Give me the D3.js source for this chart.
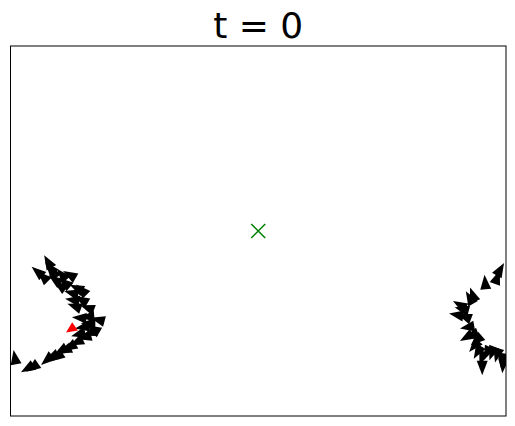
<!DOCTYPE html>
<html>
<head>
<meta charset="utf-8">
<script src="https://cdn.jsdelivr.net/npm/d3@7"></script>
<style>
  body { margin: 0; background: #fff; }
  svg { display: block; }
</style>
</head>
<body>
<svg id="chart" width="515" height="426"></svg>
<script>
// boid positions (data units) and headings (degrees, 0 = east, counter-clockwise)
const boidX = [7.6, 5.5, 6.6, 8.6, 9.0, 10.4, 12.0, 11.0, 13.4, 14.4, 12.4, 12.6, 14.4, 15.6, 14.0,
  15.6, 17.7, 14.6, 16.0, 15.0, 13.4, 12.0, 11.0, 9.4, 8.4, 7.4, 0.9, 4.5, 3.5,
  8.0, 10.0, 13.0, 15.8, 16.8, 13.8, 10.2,
  98.8, 98.2, 95.8, 93.3, 92.7, 90.7, 90.1, 91.7, 92.3, 93.1, 92.1, 94.1, 94.3, 95.2,
  96.2, 97.2, 98.2, 99.2, 99.4, 95.2, 91.2, 93.6];
const boidY = [31.2, 29.2, 28.2, 29.2, 27.6, 28.6, 28.6, 27.0, 25.9, 25.5, 24.9, 23.5, 23.5, 21.9, 19.9,
  20.1, 19.5, 18.0, 16.8, 16.0, 15.0, 14.0, 13.4, 12.0, 12.0, 11.4, 11.8, 9.9, 9.7,
  30.0, 26.4, 22.2, 18.8, 17.6, 16.6, 13.2,
  29.6, 28.0, 27.0, 24.5, 23.9, 22.5, 20.5, 20.1, 18.0, 16.4, 16.0, 15.4, 13.0, 11.8,
  12.8, 12.8, 12.4, 11.4, 10.3, 9.9, 21.6, 14.2];
const boidHeading = [120, 140, 135, 125, 145, 130, 150, 140, 155, 135, 165, 170, 150, 160, 175,
  185, 165, 190, 200, 195, 205, 210, 200, 215, 205, 220, 100, 215, 210,
  130, 145, 160, 180, 150, 195, 210,
  60, 70, 95, 110, 120, 150, 170, 160, 190, 200, 210, 220, 240, 250,
  245, 250, 255, 260, 265, 270, 165, 230];

const leaderX = [12.2], leaderY = [17.6], leaderHeading = [215];
const targetX = [50], targetY = [37.5];
const title = "t = 0";

const svg = d3.select("#chart");
const margin = {top: 46, right: 9, bottom: 10, left: 10.5};
const width = 515 - margin.left - margin.right;
const height = 426 - margin.top - margin.bottom;

const x = d3.scaleLinear().domain([0, 100]).range([margin.left, margin.left + width]);
const y = d3.scaleLinear().domain([0, 75]).range([margin.top + height, margin.top]);

svg.append("text")
  .attr("x", margin.left + width / 2)
  .attr("y", 38)
  .attr("text-anchor", "middle")
  .style("font-family", "DejaVu Sans")
  .style("font-size", "36px")
  .text(title);

svg.append("clipPath").attr("id", "clip")
  .append("rect")
  .attr("x", margin.left).attr("y", margin.top)
  .attr("width", width).attr("height", height);

const plot = svg.append("g").attr("clip-path", "url(#clip)");

// arrowhead triangle, tip pointing along +x
const tri = "M8,0 L-6.5,5.5 L-6.5,-5.5 Z";

const boids = boidX.map((d, i) => ({x: d, y: boidY[i], h: boidHeading[i]}));
plot.selectAll("path.boid")
  .data(boids)
  .enter().append("path")
  .attr("class", "boid")
  .attr("d", tri)
  .attr("transform", d => "translate(" + x(d.x) + "," + y(d.y) + ") rotate(" + (-d.h) + ")")
  .attr("fill", "black");

plot.selectAll("path.leader")
  .data(leaderX.map((d, i) => ({x: d, y: leaderY[i], h: leaderHeading[i]})))
  .enter().append("path")
  .attr("class", "leader")
  .attr("d", "M6,0 L-5,5 L-5,-5 Z")
  .attr("transform", d => "translate(" + x(d.x) + "," + y(d.y) + ") rotate(" + (-d.h) + ")")
  .attr("fill", "red");

// target marker
plot.selectAll("path.target")
  .data(targetX.map((d, i) => ({x: d, y: targetY[i]})))
  .enter().append("path")
  .attr("class", "target")
  .attr("d", "M-7,-7 L7,7 M-7,7 L7,-7")
  .attr("transform", d => "translate(" + x(d.x) + "," + y(d.y) + ")")
  .attr("stroke", "green")
  .attr("stroke-width", 1.5)
  .attr("fill", "none");

svg.append("rect")
  .attr("x", margin.left).attr("y", margin.top)
  .attr("width", width).attr("height", height)
  .attr("fill", "none")
  .attr("stroke", "black")
  .attr("stroke-width", 1);
</script>
</body>
</html>
